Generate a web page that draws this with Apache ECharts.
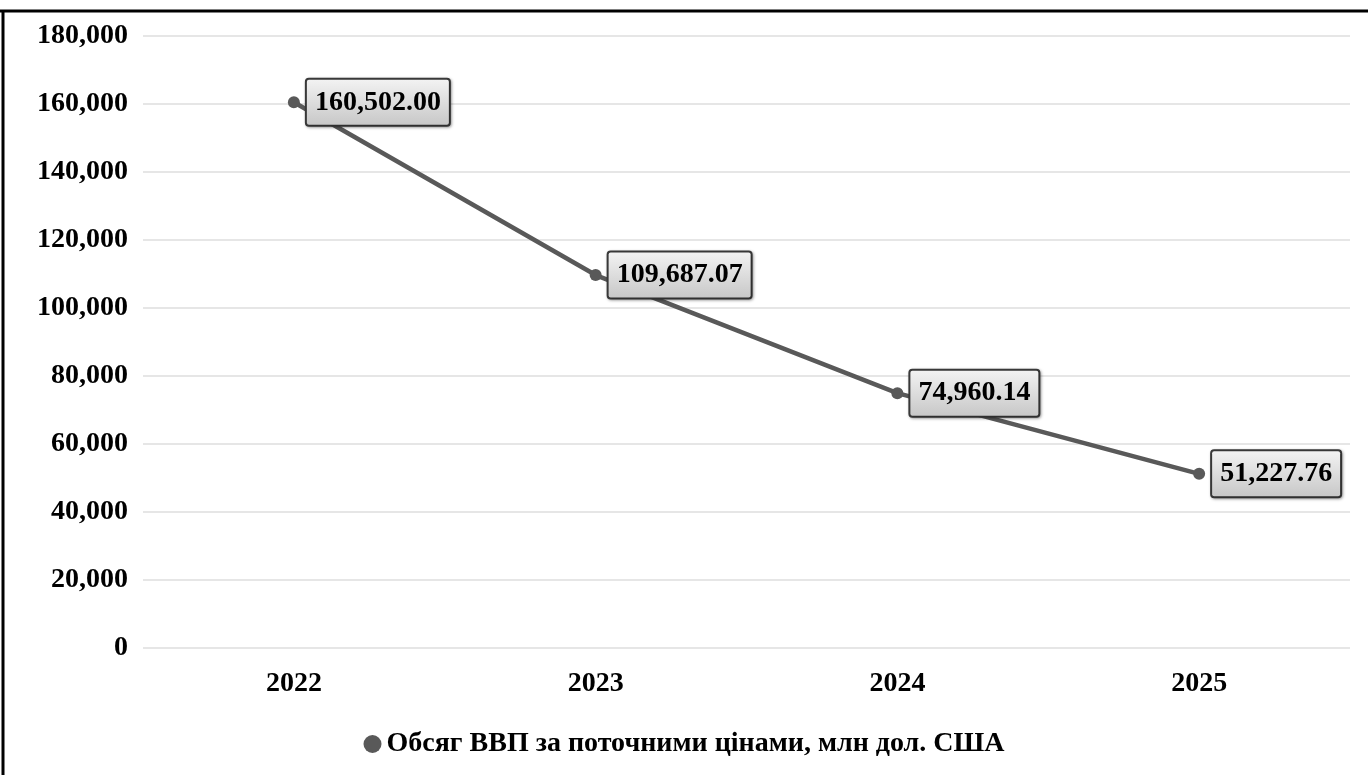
<!DOCTYPE html>
<html>
<head>
<meta charset="utf-8">
<script src="https://cdn.jsdelivr.net/npm/echarts@6/dist/echarts.min.js"></script>
<style>
html,body{margin:0;padding:0;background:#fff;}
#c{width:1368px;height:775px;}
</style>
</head>
<body>
<div id="c"></div>
<script>
const categories = ['2022', '2023', '2024', '2025'];
const gdpValues = [160502.00, 109687.07, 74960.14, 51227.76];
const seriesName = 'Обсяг ВВП за поточними цінами, млн дол. США';
const yTicks = [0, 20000, 40000, 60000, 80000, 100000, 120000, 140000, 160000, 180000];

const FONT = '"Liberation Serif", "DejaVu Serif", serif';
const chart = echarts.init(document.getElementById('c'));
const fmt = v => v.toLocaleString('en-US');
chart.setOption({
  backgroundColor: '#fff',
  animation: false,
  grid: { left: 143, right: 18, top: 36, bottom: 127 },
  legend: {
    data: [{ name: seriesName, icon: 'circle' }],
    left: 'center', bottom: 12,
    itemWidth: 18, itemHeight: 18, itemGap: 4,
    textStyle: { fontFamily: FONT, fontWeight: 'bold', fontSize: 28, color: '#000' }
  },
  xAxis: {
    type: 'category', data: categories, boundaryGap: true,
    axisLine: { show: false }, axisTick: { show: false },
    axisLabel: { fontFamily: FONT, fontWeight: 'bold', fontSize: 28, color: '#000', margin: 22 }
  },
  yAxis: {
    type: 'value', min: yTicks[0], max: yTicks[yTicks.length - 1], interval: 20000,
    axisLine: { show: false }, axisTick: { show: false },
    splitLine: { lineStyle: { color: '#e6e6e6', width: 2 } },
    axisLabel: { fontFamily: FONT, fontWeight: 'bold', fontSize: 28, color: '#000', margin: 15,
      formatter: v => fmt(v) }
  },
  series: [{
    name: seriesName, type: 'line', data: gdpValues,
    symbol: 'circle', symbolSize: 12,
    itemStyle: { color: '#595959' },
    lineStyle: { color: '#595959', width: 4.5 },
    label: {
      show: true, position: 'right', distance: 7,
      formatter: p => p.value.toLocaleString('en-US', { minimumFractionDigits: 2, maximumFractionDigits: 2 }),
      fontFamily: FONT, fontWeight: 'bold', fontSize: 28, color: '#000',
      backgroundColor: new echarts.graphic.LinearGradient(0, 0, 0, 1, [
        { offset: 0, color: '#f4f4f4' }, { offset: 1, color: '#c6c6c6' }
      ]),
      borderColor: '#3a3a3a', borderWidth: 2, borderRadius: 2,
      padding: [9, 8, 8, 8],
      shadowColor: 'rgba(0,0,0,0.35)', shadowBlur: 3, shadowOffsetX: 1, shadowOffsetY: 1
    }
  }],
  graphic: [
    { type: 'line', shape: { x1: 0, y1: 11, x2: 1368, y2: 11 }, style: { stroke: '#000', lineWidth: 3 } },
    { type: 'line', shape: { x1: 3, y1: 10, x2: 3, y2: 775 }, style: { stroke: '#000', lineWidth: 3 } }
  ]
});
</script>
</body>
</html>
